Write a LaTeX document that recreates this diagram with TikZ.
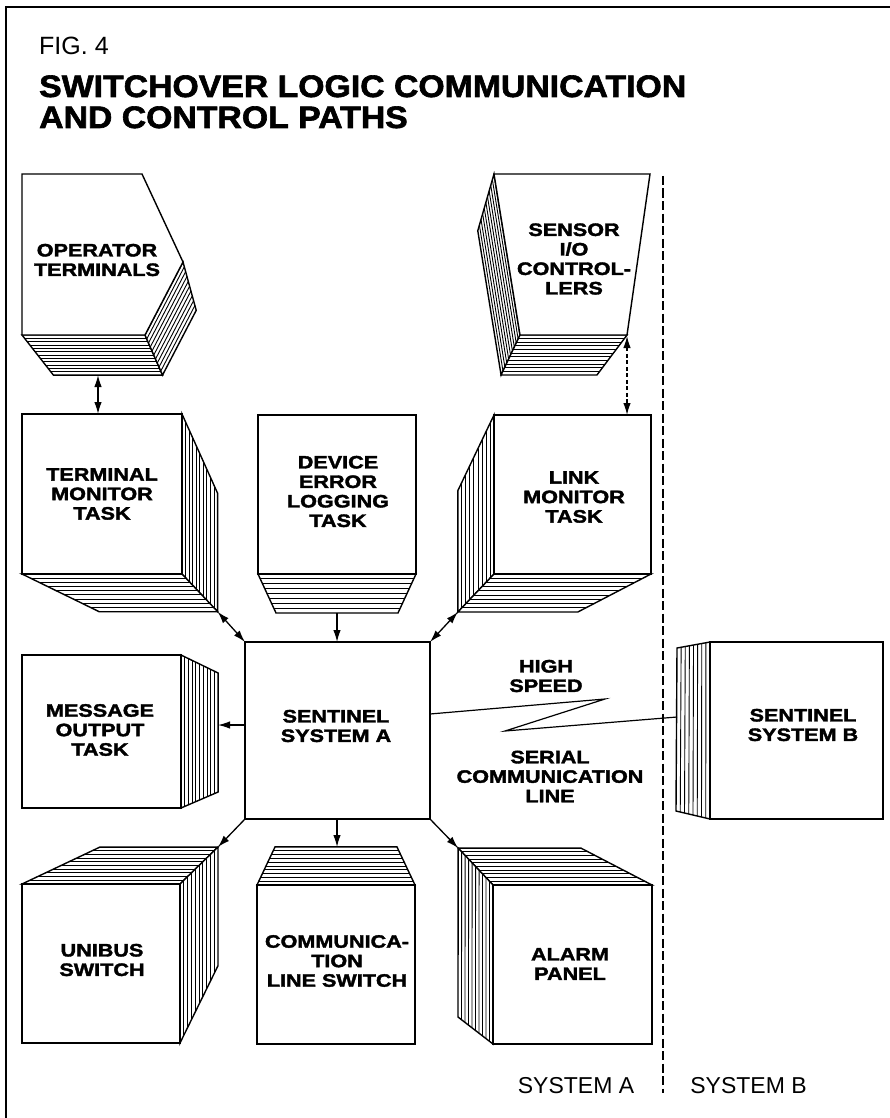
\documentclass[tikz,border=0pt]{standalone}
\usepackage{fontspec}
\setmainfont{Liberation Sans}
\newfontfamily\blkfont{Liberation Sans}[FakeStretch=1.2,BoldFeatures={FakeBold=2}]
\newfontfamily\ttlfont{Liberation Sans}[FakeStretch=1.09,BoldFeatures={FakeBold=2}]
\usetikzlibrary{calc,arrows.meta}
\tikzset{
  outline/.style={line width=1.4pt, line join=miter},
  frontface/.style={outline, fill=white},
  sideface/.style={outline, fill=white},
  hatchline/.style={line width=0.9pt},
  lbl/.style={font=\blkfont\bfseries\fontsize{18}{19.5}\selectfont, align=center, inner sep=0pt},
  plainlbl/.style={font=\fontsize{23}{23}\selectfont, inner sep=0pt, anchor=base},
  ttl/.style={anchor=base west, font=\ttlfont\bfseries\fontsize{31}{27}\selectfont, inner sep=0pt, text height=22pt, text depth=0pt},
  conn/.style={line width=1.3pt, -{Latex[length=12pt,width=7.5pt]}},
  dconn/.style={line width=1.3pt, {Latex[length=12pt,width=7.5pt]}-{Latex[length=12pt,width=7.5pt]}},
  divider/.style={line width=2.6pt, dash pattern=on 9pt off 3.5pt},
  zigzag/.style={line width=1.2pt, line join=miter},
}
\newcommand\hatchface[5]{%
  \filldraw[sideface] (#1) -- (#2) -- (#4) -- (#3) -- cycle;
  \foreach \i in {1,...,#5}{%
    \pgfmathsetmacro\hfrac{\i/(#5+1)}%
    \draw[hatchline] ($(#1)!\hfrac!(#3)$) -- ($(#2)!\hfrac!(#4)$);
  }%
}
\newcommand\boxpts[8]{%
  \coordinate (#1a) at (#2,#3);
  \coordinate (#1b) at (#4,#3);
  \coordinate (#1c) at (#4,#5);
  \coordinate (#1d) at (#2,#5);
  \coordinate (#1V) at (#6,#7);
  \coordinate (#1ax) at ($(#1a)!#8!(#1V)$);
  \coordinate (#1bx) at ($(#1b)!#8!(#1V)$);
  \coordinate (#1cx) at ($(#1c)!#8!(#1V)$);
  \coordinate (#1dx) at ($(#1d)!#8!(#1V)$);
}
\newcommand\frontbox[1]{\filldraw[frontface] (#1a) rectangle (#1c);}
\begin{document}
\begin{tikzpicture}[x=1pt,y=-1pt]
\useasboundingbox (0,0) rectangle (890,1118);
% frame
\draw[line width=1.2pt] (6,1118) -- (6,7) -- (890,7);
% headings
\node[anchor=base west, font=\fontsize{25}{25}\selectfont, inner sep=0pt] (fig) at (39,55) {FIG. 4};
\node[ttl] (title1) at (39,97) {SWITCHOVER LOGIC COMMUNICATION};
\node[ttl] (title2) at (39,128) {AND CONTROL PATHS};

% divider
\coordinate (dtop) at (663,176);
\coordinate (dbot) at (663,1093);
\draw[divider] (dtop) -- (dbot);

% operator terminals
\coordinate (opV) at (300,690);
\coordinate (op1) at (22,174);
\coordinate (op2) at (142,174);
\coordinate (op3) at (183,262);
\coordinate (op4) at (145,335);
\coordinate (op5) at (22,335);
\coordinate (op3x) at ($(op3)!0.113!(opV)$);
\coordinate (op4x) at ($(op4)!0.113!(opV)$);
\coordinate (op5x) at ($(op5)!0.113!(opV)$);
\hatchface{op5}{op4}{op5x}{op4x}{11}
\hatchface{op4}{op3}{op4x}{op3x}{9}
\filldraw[frontface] (op1) -- (op2) -- (op3) -- (op4) -- (op5) -- cycle;
\node[lbl] (opT) at (97,260) {OPERATOR\\TERMINALS};

% sensor I/O controllers
\coordinate (snV) at (338,720);
\coordinate (sn1) at (494,174);
\coordinate (sn2) at (650,174);
\coordinate (sn3) at (627,335);
\coordinate (sn4) at (520,335);
\coordinate (sn1x) at ($(sn1)!0.104!(snV)$);
\coordinate (sn3x) at ($(sn3)!0.104!(snV)$);
\coordinate (sn4x) at ($(sn4)!0.104!(snV)$);
\hatchface{sn1}{sn4}{sn1x}{sn4x}{9}
\hatchface{sn4}{sn3}{sn4x}{sn3x}{10}
\filldraw[frontface] (sn1) -- (sn2) -- (sn3) -- (sn4) -- cycle;
\node[lbl] (snT) at (574,259) {SENSOR\\I/O\\CONTROL-\\LERS};

% terminal monitor task
\boxpts{tm}{22}{414}{182}{574}{319}{719}{0.26}
\hatchface{tmb}{tmc}{tmbx}{tmcx}{9}
\hatchface{tmd}{tmc}{tmdx}{tmcx}{8}
\frontbox{tm}
\node[lbl] (tmT) at (102,494) {TERMINAL\\MONITOR\\TASK};

% device error logging task
\boxpts{de}{258}{415}{416}{574}{337}{745}{0.228}
\hatchface{ded}{dec}{dedx}{decx}{7}
\frontbox{de}
\node[lbl] (deT) at (338,491.5) {DEVICE\\ERROR\\LOGGING\\TASK};

% link monitor task
\boxpts{lm}{494}{415}{651}{574}{341}{735}{0.236}
\hatchface{lma}{lmd}{lmax}{lmdx}{8}
\hatchface{lmd}{lmc}{lmdx}{lmcx}{8}
\frontbox{lm}
\node[lbl] (lmT) at (574,497) {LINK\\MONITOR\\TASK};

% message output task
\boxpts{mo}{22}{655}{181}{808}{348}{736}{0.222}
\hatchface{mob}{moc}{mobx}{mocx}{9}
\frontbox{mo}
\node[lbl] (moT) at (100,730) {MESSAGE\\OUTPUT\\TASK};

% sentinel system A
\coordinate (sa1) at (245,642);
\coordinate (sa2) at (430,642);
\coordinate (sa3) at (430,819);
\coordinate (sa4) at (245,819);
\filldraw[frontface] (sa1) rectangle (sa3);
\node[lbl] (saT) at (336,726) {SENTINEL\\SYSTEM A};

% unibus switch
\boxpts{ub}{22}{884}{180}{1043}{330}{738}{0.253}
\hatchface{uba}{ubb}{ubax}{ubbx}{9}
\hatchface{ubb}{ubc}{ubbx}{ubcx}{9}
\frontbox{ub}
\node[lbl] (ubT) at (102,960) {UNIBUS\\SWITCH};

% communication line switch
\boxpts{cl}{257}{885}{415}{1044}{336}{718}{0.228}
\hatchface{cla}{clb}{clax}{clbx}{9}
\frontbox{cl}
\node[lbl] (clT) at (337,961) {COMMUNICA-\\TION\\LINE SWITCH};

% alarm panel
\boxpts{al}{493}{885}{652}{1044}{340}{723}{0.228}
\coordinate (aldx) at (458,1017);
\hatchface{ala}{alb}{alax}{albx}{9}
\hatchface{ala}{ald}{alax}{aldx}{9}
\frontbox{al}
\node[lbl] (alT) at (570,964) {ALARM\\PANEL};

% sentinel system B
\coordinate (sba) at (710,642);
\coordinate (sbc) at (883,819);
\coordinate (sbd) at (710,819);
\coordinate (sbax) at (677,648);
\coordinate (sbdx) at (676,811);
\hatchface{sba}{sbd}{sbax}{sbdx}{7}
\filldraw[frontface] (sba) rectangle (sbc);
\node[lbl] (sbT) at (803,725) {SENTINEL\\SYSTEM B};

% high speed serial line
\coordinate (saE) at (430,714);
\coordinate (zz1) at (605,699);
\coordinate (zz2) at (505,731);
\coordinate (sbL) at (677,717);
\draw[zigzag] (saE) -- (zz1) -- (zz2) -- (sbL);
\node[lbl] (hsT) at (546,676) {HIGH\\SPEED};
\node[lbl] (scT) at (550,776.5) {SERIAL\\COMMUNICATION\\LINE};

% connectors
\coordinate (opBot) at (98,375);
\coordinate (tmTop) at (98,414);
\draw[dconn] (opBot) -- (tmTop);
\coordinate (snBot) at (627,336);
\coordinate (lmTop) at (627,415);
\draw[dconn, dash pattern=on 4pt off 2.5pt] (snBot) -- (lmTop);
\draw[dconn] (tmcx) -- (sa1);
\coordinate (deBot) at (337,613);
\coordinate (saN) at (337,642);
\draw[conn] (deBot) -- (saN);
\draw[dconn] (lmdx) -- (sa2);
\coordinate (saW) at (245,725);
\coordinate (moR) at (218,725);
\draw[conn] (saW) -- (moR);
\draw[conn] (sa4) -- (ubbx);
\coordinate (saS) at (337,819);
\coordinate (clTop) at (337,847);
\draw[conn] (saS) -- (clTop);
\draw[conn] (sa3) -- (alax);

% system labels
\node[plainlbl] (sysA) at (576,1093) {SYSTEM A};
\node[plainlbl] (sysB) at (748.5,1093) {SYSTEM B};
\end{tikzpicture}
\end{document}
